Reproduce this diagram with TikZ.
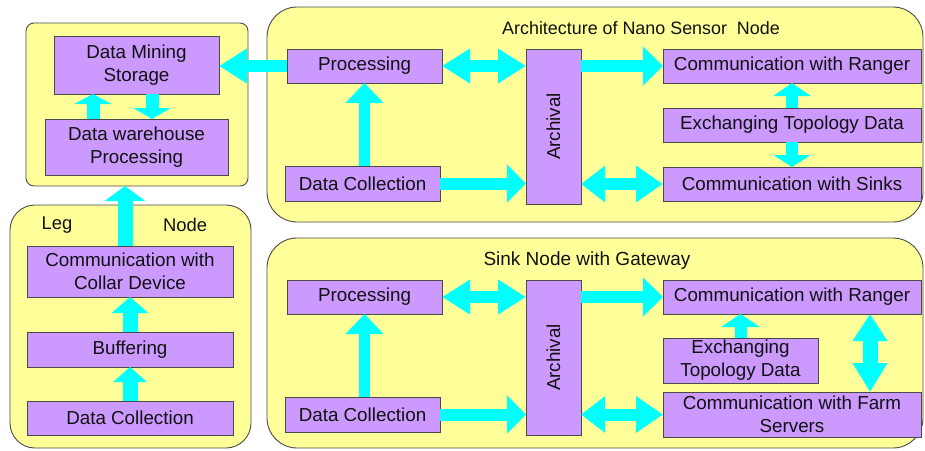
\documentclass[tikz,border=0pt]{standalone}
\usepackage{fontspec}
\setmainfont{Liberation Sans}
\usetikzlibrary{arrows.meta}
\definecolor{ylw}{HTML}{FFFF99}
\definecolor{prp}{HTML}{CC99FF}
\definecolor{cyn}{HTML}{00FFFF}
\definecolor{edgec}{HTML}{4A4A4A}
\definecolor{txt}{HTML}{111111}
\begin{document}
\begin{tikzpicture}[x=1pt,y=-1pt,
  container/.style={draw=edgec, line width=0.9pt, fill=ylw, inner sep=0pt, outer sep=0pt},
  box/.style={draw=edgec, line width=0.9pt, fill=prp, inner sep=0pt, outer sep=0pt, align=center,
              text=txt, font=\fontsize{18.8}{23}\selectfont},
  ttl/.style={inner sep=0pt, text=txt},
  fat/.style={draw=cyn, fill=cyn, line width=#1},
  tipA/.style={-{Triangle[length=#1]}},
]
\useasboundingbox (0,0) rectangle (925,450);

% containers
\node[container, rounded corners=8, minimum width=222, minimum height=163] (tl) at (137,104.5) {};
\node[container, rounded corners=30, minimum width=656, minimum height=215] (tr) at (595,114.5) {};
\node[container, rounded corners=25, minimum width=241, minimum height=243] (bl) at (130.5,326.5) {};
\node[container, rounded corners=30, minimum width=656, minimum height=210] (br) at (595,343) {};

% titles
\node[ttl, font=\fontsize{17.9}{20}\selectfont] (t1) at (641,28) {Architecture of Nano Sensor\ \ Node};
\node[ttl, font=\fontsize{19}{21}\selectfont] (t2) at (587,261) {Sink Node with Gateway};
\node[ttl, font=\fontsize{18.4}{20}\selectfont] (leg) at (57,225) {Leg};
\node[ttl, font=\fontsize{18.4}{20}\selectfont] (nd) at (185,225) {Node};

% top-left boxes
\node[box, minimum width=165, minimum height=58] (dm) at (136.5,65) {Data Mining\\Storage};
\node[box, minimum width=183, minimum height=56] (dw) at (136.5,147) {Data warehouse\\Processing};

% top-right boxes
\node[box, minimum width=155, minimum height=34] (p1) at (364.5,66) {Processing};
\node[box, minimum width=155, minimum height=35] (dc1) at (362.5,183.5) {Data Collection};
\node[box, minimum width=55, minimum height=155,
      label={[rotate=90, inner sep=0pt, text=txt, font=\fontsize{18.8}{23}\selectfont]center:Archival}] (a1) at (553.5,126.5) {};
\node[box, minimum width=258, minimum height=34] (r1) at (792,66) {Communication with Ranger};
\node[box, minimum width=258, minimum height=34] (e1) at (792,125) {Exchanging Topology Data};
\node[box, minimum width=258, minimum height=34] (s1) at (792,184) {Communication with Sinks};

% bottom-left boxes
\node[box, minimum width=206, minimum height=51] (col) at (130,271.5) {Communication with\\Collar Device};
\node[box, minimum width=206, minimum height=35] (buf) at (130,349.5) {Buffering};
\node[box, minimum width=206, minimum height=34] (dc3) at (130,418) {Data Collection};

% bottom-right boxes
\node[box, minimum width=155, minimum height=34] (p2) at (364.5,297) {Processing};
\node[box, minimum width=155, minimum height=35] (dc2) at (362.5,414.5) {Data Collection};
\node[box, minimum width=55, minimum height=155,
      label={[rotate=90, inner sep=0pt, text=txt, font=\fontsize{18.8}{23}\selectfont]center:Archival}] (a2) at (553.5,357.5) {};
\node[box, minimum width=258, minimum height=34] (r2) at (792,297) {Communication with Ranger};
\node[box, minimum width=155, minimum height=45] (e2) at (740.5,360.5) {Exchanging\\Topology Data};
\node[box, minimum width=258, minimum height=45] (f2) at (792,414.5) {Communication with Farm\\Servers};

% ---- arrows: top-left
\draw[fat=13pt, -{Triangle[length=10pt,width=37pt]}] (dw.north -| 93,0) -- (dm.south -| 93,0);
\draw[fat=13pt, -{Triangle[length=11pt,width=37pt]}] (dm.south -| 152,0) -- (dw.north -| 152,0);
\draw[fat=12pt, -{Triangle[length=28pt,width=33pt]}] (p1.west) -- (p1.west -| dm.east);

% ---- arrows: top-right
\draw[fat=12pt, {Triangle[length=28pt,width=33pt]}-{Triangle[length=28pt,width=33pt]}] (p1.east) -- (p1.east -| a1.west);
\draw[fat=11pt, -{Triangle[length=20pt,width=37pt]}] (dc1.north -| p1.south) -- (p1.south);
\draw[fat=12pt, -{Triangle[length=19pt,width=37pt]}] (dc1.east) -- (dc1.east -| a1.west);
\draw[fat=12pt, -{Triangle[length=20pt,width=38pt]}] (r1.west -| a1.east) -- (r1.west);
\draw[fat=12pt, -{Triangle[length=13pt,width=37pt]}] (e1.north) -- (r1.south);
\draw[fat=12pt, -{Triangle[length=12pt,width=37pt]}] (e1.south) -- (s1.north);
\draw[fat=12pt, {Triangle[length=24pt,width=35pt]}-{Triangle[length=27pt,width=35pt]}] (s1.west -| a1.east) -- (s1.west);

% ---- arrows: bottom-left
\draw[fat=15pt, -{Triangle[length=15pt,width=33pt]}] (dc3.north) -- (buf.south);
\draw[fat=15pt, -{Triangle[length=16pt,width=36pt]}] (buf.north) -- (col.south);
\draw[fat=15pt, -{Triangle[length=15pt,width=40pt]}] (col.north -| 125,0) -- (tl.south -| 125,0);

% ---- arrows: bottom-right
\draw[fat=12pt, {Triangle[length=28pt,width=33pt]}-{Triangle[length=28pt,width=33pt]}] (p2.east) -- (p2.east -| a2.west);
\draw[fat=11pt, -{Triangle[length=20pt,width=37pt]}] (dc2.north -| p2.south) -- (p2.south);
\draw[fat=12pt, -{Triangle[length=19pt,width=37pt]}] (dc2.east) -- (dc2.east -| a2.west);
\draw[fat=12pt, -{Triangle[length=20pt,width=38pt]}] (r2.west -| a2.east) -- (r2.west);
\draw[fat=12pt, -{Triangle[length=13pt,width=38pt]}] (e2.north) -- (e2.north |- r2.south);
\draw[fat=15pt, {Triangle[length=27pt,width=33pt]}-{Triangle[length=29pt,width=33pt]}] (r2.south -| 870,0) -- (f2.north -| 870,0);
\draw[fat=12pt, {Triangle[length=24pt,width=35pt]}-{Triangle[length=27pt,width=35pt]}] (f2.west -| a2.east) -- (f2.west);
\end{tikzpicture}
\end{document}
